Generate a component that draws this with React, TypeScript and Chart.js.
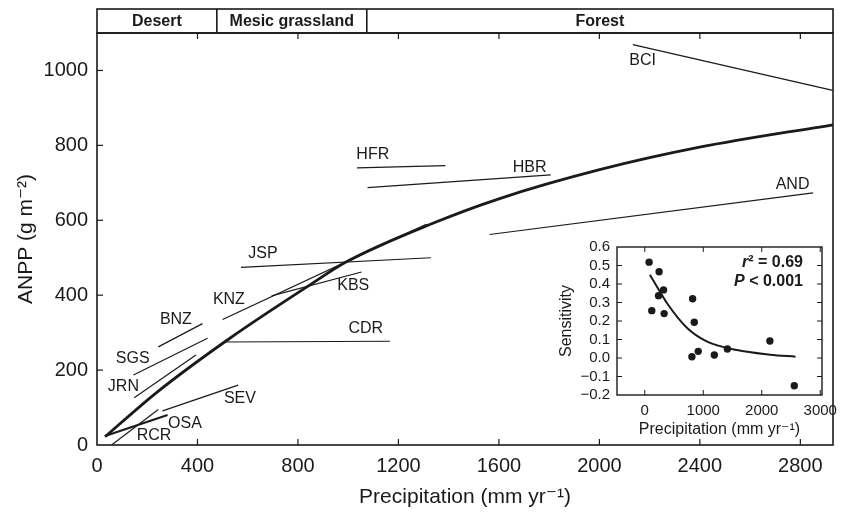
import React, { useEffect, useRef } from "react";
import { Chart, registerables } from "chart.js";
Chart.register(...registerables);

const FONT = "'Liberation Sans', Arial, Helvetica, 'DejaVu Sans', sans-serif";
const INK = "#1a1a1a";

// ---- main panel ----
const X_TICKS = [0, 400, 800, 1200, 1600, 2000, 2400, 2800];
const Y_TICKS = [0, 200, 400, 600, 800, 1000];
const X_MIN = 0;
const X_MAX = 2930;
const Y_MIN = 0;
const Y_MAX = 1100;

const BIOME_NAMES = ["Desert", "Mesic grassland", "Forest"];
const BIOME_BREAKS = [0, 477, 1074, 2930];

const CURVE_PRECIP = [32, 237, 529, 847, 993, 1337, 1603, 2001, 2399, 2929];
const CURVE_ANPP = [22, 140, 285, 427, 489, 592, 658, 735, 795, 855];

const SITES = ["BCI", "AND", "HFR", "HBR", "JSP", "KBS", "KNZ", "CDR", "BNZ", "SGS", "JRN", "SEV", "OSA", "RCR"];
const SITE_PRECIP_START = [2133, 1563, 1035, 1077, 573, 695, 500, 502, 244, 145, 148, 261, 32, 58];
const SITE_PRECIP_END = [2929, 2851, 1387, 1806, 1329, 1053, 1311, 1166, 420, 440, 394, 562, 281, 244];
const SITE_ANPP_START = [1069, 562, 740, 687, 474, 398, 335, 275, 262, 187, 126, 91, 24, 0];
const SITE_ANPP_END = [947, 673, 746, 721, 500, 462, 589, 277, 324, 285, 240, 160, 80, 95];
const SITE_LABEL_PRECIP = [2172, 2769, 1098, 1722, 661, 1020, 525, 1070, 314, 142, 105, 569, 350, 227];
const SITE_LABEL_ANPP = [1025, 696, 776, 741, 511, 425, 389, 312, 335, 231, 155, 125, 58, 24];

// ---- inset panel ----
const INS_X_TICKS = [0, 1000, 2000, 3000];
const INS_Y_TICKS = [-0.2, -0.1, 0, 0.1, 0.2, 0.3, 0.4, 0.5, 0.6];
const INS_PRECIP = [74, 245, 120, 235, 321, 331, 818, 846, 806, 914, 1189, 1412, 2139, 2556];
const INS_SENS = [0.518, 0.466, 0.256, 0.337, 0.368, 0.24, 0.32, 0.193, 0.007, 0.036, 0.016, 0.049, 0.092, -0.15];
const INS_FIT_PRECIP = [86, 257, 372, 715, 1058, 1573, 2144, 2578];
const INS_FIT_SENS = [0.45, 0.36, 0.3, 0.165, 0.09, 0.043, 0.018, 0.007];

const fmtMinus = (s: string) => s.replace("-", "\u2212");

const noPad = (s: any) => {
  s.paddingLeft = 0;
  s.paddingRight = 0;
  s.paddingTop = 0;
  s.paddingBottom = 0;
};

const mainDecor = {
  id: "mainDecor",
  afterDatasetsDraw(chart: any) {
    const { ctx, chartArea: a, scales } = chart;
    const x = scales.x;
    const y = scales.y;
    ctx.save();
    ctx.strokeStyle = INK;
    ctx.fillStyle = INK;
    const seg = (x1: number, y1: number, x2: number, y2: number) => {
      ctx.beginPath();
      ctx.moveTo(x1, y1);
      ctx.lineTo(x2, y2);
      ctx.stroke();
    };
    ctx.lineWidth = 1.2;
    X_TICKS.forEach((v) => {
      if (v === X_MIN) return;
      const px = x.getPixelForValue(v);
      seg(px, a.bottom, px, a.bottom - 6);
      seg(px, a.top, px, a.top + 6);
    });
    Y_TICKS.forEach((v) => {
      if (v === Y_MIN) return;
      const py = y.getPixelForValue(v);
      seg(a.left, py, a.left + 6, py);
    });
    ctx.lineWidth = 1.6;
    ctx.strokeRect(a.left, a.top, a.right - a.left, a.bottom - a.top);
    // biome band
    const bandTop = a.top - 24;
    ctx.strokeRect(a.left, bandTop, a.right - a.left, a.top - bandTop);
    ctx.font = `bold 16px ${FONT}`;
    ctx.textAlign = "center";
    ctx.textBaseline = "middle";
    for (let i = 0; i < BIOME_NAMES.length; i++) {
      const l = Math.max(a.left, x.getPixelForValue(BIOME_BREAKS[i]));
      const r = Math.min(a.right, x.getPixelForValue(BIOME_BREAKS[i + 1]));
      if (i > 0) seg(l, bandTop, l, a.top);
      ctx.fillText(BIOME_NAMES[i], (l + r) / 2, (bandTop + a.top) / 2 + 1);
    }
    // site labels
    ctx.font = `16px ${FONT}`;
    SITES.forEach((s, i) => {
      ctx.fillText(s, x.getPixelForValue(SITE_LABEL_PRECIP[i]), y.getPixelForValue(SITE_LABEL_ANPP[i]));
    });
    ctx.restore();
  },
};

const insetDecor = {
  id: "insetDecor",
  afterDatasetsDraw(chart: any) {
    const { ctx, chartArea: a, scales } = chart;
    const x = scales.x;
    const y = scales.y;
    ctx.save();
    ctx.strokeStyle = INK;
    ctx.fillStyle = INK;
    const seg = (x1: number, y1: number, x2: number, y2: number) => {
      ctx.beginPath();
      ctx.moveTo(x1, y1);
      ctx.lineTo(x2, y2);
      ctx.stroke();
    };
    ctx.lineWidth = 1;
    INS_X_TICKS.forEach((v) => {
      const px = x.getPixelForValue(v);
      if (px <= a.left + 1 || px >= a.right - 1) return;
      seg(px, a.bottom, px, a.bottom - 5);
      seg(px, a.top, px, a.top + 5);
    });
    INS_Y_TICKS.forEach((v) => {
      const py = y.getPixelForValue(v);
      if (py <= a.top + 1 || py >= a.bottom - 1) return;
      seg(a.left, py, a.left + 5, py);
      seg(a.right, py, a.right - 5, py);
    });
    ctx.lineWidth = 1.4;
    ctx.strokeRect(a.left, a.top, a.right - a.left, a.bottom - a.top);
    // statistics text
    ctx.textBaseline = "middle";
    ctx.textAlign = "left";
    const rightX = a.right - 19;
    const drawParts = (parts: [string, string][], yy: number) => {
      let w = 0;
      parts.forEach(([t, f]) => {
        ctx.font = f;
        w += ctx.measureText(t).width;
      });
      let cx = rightX - w;
      parts.forEach(([t, f]) => {
        ctx.font = f;
        ctx.fillText(t, cx, yy);
        cx += ctx.measureText(t).width;
      });
    };
    drawParts(
      [
        ["r", `italic bold 16px ${FONT}`],
        ["\u00b2 = 0.69", `bold 16px ${FONT}`],
      ],
      a.top + 16
    );
    drawParts(
      [
        ["P", `italic bold 16px ${FONT}`],
        [" < 0.001", `bold 16px ${FONT}`],
      ],
      a.top + 35
    );
    ctx.restore();
  },
};

export default function App() {
  const mainRef = useRef<HTMLCanvasElement>(null);
  const insetRef = useRef<HTMLCanvasElement>(null);

  useEffect(() => {
    const siteSets = SITES.map((s, i) => ({
      label: s,
      data: [
        { x: SITE_PRECIP_START[i], y: SITE_ANPP_START[i] },
        { x: SITE_PRECIP_END[i], y: SITE_ANPP_END[i] },
      ],
      showLine: true,
      borderColor: INK,
      borderWidth: s === "OSA" ? 2 : 1.2,
      pointRadius: 0,
      fill: false,
    }));
    const curveSet = {
      label: "fit",
      data: CURVE_PRECIP.map((p, i) => ({ x: p, y: CURVE_ANPP[i] })),
      showLine: true,
      borderColor: INK,
      borderWidth: 2.8,
      pointRadius: 0,
      cubicInterpolationMode: "monotone",
      fill: false,
    };

    const main = new Chart(mainRef.current as HTMLCanvasElement, {
      type: "scatter",
      data: { datasets: [...siteSets, curveSet] as any },
      options: {
        animation: false,
        responsive: false,
        maintainAspectRatio: false,
        layout: { padding: { left: 0, right: 18, top: 33, bottom: 0 } },
        plugins: { legend: { display: false }, tooltip: { enabled: false } },
        scales: {
          x: {
            type: "linear",
            min: X_MIN,
            max: X_MAX,
            afterBuildTicks: (s: any) => {
              s.ticks = X_TICKS.map((v) => ({ value: v }));
            },
            afterFit: (s: any) => {
              s.height = 67;
              noPad(s);
            },
            grid: { display: false, drawTicks: false },
            border: { display: false },
            ticks: {
              padding: 9,
              color: INK,
              font: { family: FONT, size: 20 },
              maxRotation: 0,
              autoSkip: false,
              callback: (v: any) => String(v),
            },
            title: {
              display: true,
              text: "Precipitation (mm yr\u207b\u00b9)",
              color: INK,
              font: { family: FONT, size: 21 },
              padding: { top: 0, bottom: 2 },
            },
          },
          y: {
            type: "linear",
            min: Y_MIN,
            max: Y_MAX,
            afterBuildTicks: (s: any) => {
              s.ticks = Y_TICKS.map((v) => ({ value: v }));
            },
            afterFit: (s: any) => {
              s.width = 97;
              noPad(s);
            },
            grid: { display: false, drawTicks: false },
            border: { display: false },
            ticks: {
              padding: 9,
              color: INK,
              font: { family: FONT, size: 20 },
              autoSkip: false,
              callback: (v: any) => String(v),
            },
            title: {
              display: true,
              text: "ANPP (g m\u207b\u00b2)",
              color: INK,
              font: { family: FONT, size: 21 },
              padding: { top: 14, bottom: 0 },
            },
          },
        },
      } as any,
      plugins: [mainDecor],
    });

    const inset = new Chart(insetRef.current as HTMLCanvasElement, {
      type: "scatter",
      data: {
        datasets: [
          {
            label: "sites",
            data: INS_PRECIP.map((p, i) => ({ x: p, y: INS_SENS[i] })),
            pointRadius: 3.7,
            pointBackgroundColor: INK,
            pointBorderWidth: 0,
            showLine: false,
          },
          {
            label: "fit",
            data: INS_FIT_PRECIP.map((p, i) => ({ x: p, y: INS_FIT_SENS[i] })),
            showLine: true,
            borderColor: INK,
            borderWidth: 2,
            pointRadius: 0,
            cubicInterpolationMode: "monotone",
          },
        ] as any,
      },
      options: {
        animation: false,
        responsive: false,
        maintainAspectRatio: false,
        layout: { padding: { left: 0, right: 23, top: 11, bottom: 0 } },
        plugins: { legend: { display: false }, tooltip: { enabled: false } },
        scales: {
          x: {
            type: "linear",
            min: -475,
            max: 3030,
            afterBuildTicks: (s: any) => {
              s.ticks = INS_X_TICKS.map((v) => ({ value: v }));
            },
            afterFit: (s: any) => {
              s.height = 47;
              noPad(s);
            },
            grid: { display: false, drawTicks: false },
            border: { display: false },
            ticks: {
              padding: 7,
              color: INK,
              font: { family: FONT, size: 15 },
              maxRotation: 0,
              autoSkip: false,
              callback: (v: any) => String(v),
            },
            title: {
              display: true,
              text: "Precipitation (mm yr\u207b\u00b9)",
              color: INK,
              font: { family: FONT, size: 16 },
              padding: { top: 0, bottom: 3 },
            },
          },
          y: {
            type: "linear",
            min: -0.2,
            max: 0.6,
            afterBuildTicks: (s: any) => {
              s.ticks = INS_Y_TICKS.map((v) => ({ value: v }));
            },
            afterFit: (s: any) => {
              s.width = 72;
              noPad(s);
            },
            grid: { display: false, drawTicks: false },
            border: { display: false },
            ticks: {
              padding: 7,
              color: INK,
              font: { family: FONT, size: 15 },
              autoSkip: false,
              callback: (v: any) => fmtMinus(Number(v).toFixed(1)),
            },
            title: {
              display: true,
              text: "Sensitivity",
              color: INK,
              font: { family: FONT, size: 16 },
              padding: { top: 12, bottom: 0 },
            },
          },
        },
      } as any,
      plugins: [insetDecor],
    });

    return () => {
      main.destroy();
      inset.destroy();
    };
  }, []);

  return (
    <div style={{ position: "absolute", left: 0, top: 0, width: 851, height: 512, background: "#fff" }}>
      <canvas
        ref={mainRef}
        width={851}
        height={512}
        style={{ position: "absolute", left: 0, top: 0, width: 851, height: 512 }}
      />
      <canvas
        ref={insetRef}
        width={300}
        height={206}
        style={{ position: "absolute", left: 545, top: 236, width: 300, height: 206 }}
      />
    </div>
  );
}
